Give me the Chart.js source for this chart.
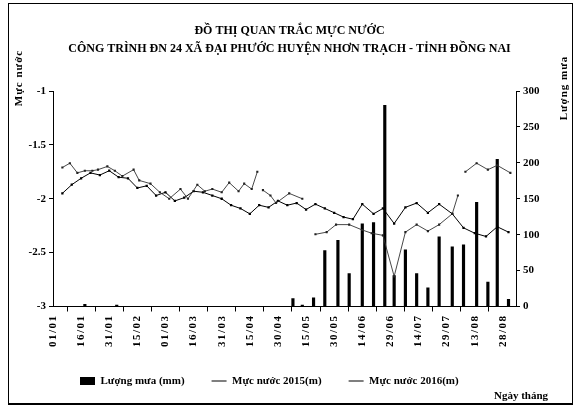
<!DOCTYPE html>
<html>
<head>
<meta charset="utf-8">
<script src="https://cdn.jsdelivr.net/npm/chart.js@4.4.1/dist/chart.umd.min.js"></script>
<style>
html,body{margin:0;padding:0;background:#fff;}
#wrap{position:relative;width:579px;height:415px;overflow:hidden;}
#c{position:absolute;left:0;top:0;}
#frame{position:absolute;left:8px;top:3px;width:563px;height:399px;border:1px solid #000;border-bottom-width:2px;pointer-events:none;}
.lbl{position:absolute;font-family:'Liberation Serif',serif;font-weight:bold;font-size:11px;color:#000;white-space:nowrap;line-height:13px;}
.rot{transform:translate(-50%,-50%) rotate(-90deg);letter-spacing:1px;}
</style>
</head>
<body>
<div id="wrap">
<canvas id="c" width="579" height="415"></canvas>
<div id="frame"></div>
<div class="lbl rot" style="left:18px;top:78px;">Mực nước</div>
<div class="lbl rot" style="left:563px;top:88px;">Lượng mưa</div>
<div class="lbl" style="left:494px;top:389px;">Ngày tháng</div>
</div>
<script>
// ---- data ----
const titleLines = ['ĐỒ THỊ QUAN TRẮC MỰC NƯỚC', 'CÔNG TRÌNH ĐN 24 XÃ ĐẠI PHƯỚC HUYỆN NHƠN TRẠCH - TỈNH ĐỒNG NAI'];
const tickDays = [0,15,30,45,60,75,90,105,120,135,150,165,180,195,210,225,240];
const tickLabels = ['01/01','16/01','31/01','15/02','01/03','16/03','31/03','15/04','30/04','15/05','30/05','14/06','29/06','14/07','29/07','13/08','28/08'];

const days2015 = [5,10,15,20,25,30,35,40,45,50,55,60,65,70,75,80,85,90,95,100,105,110,115,120,125,130,135,140,145,150,155,160,165,171,176,182,188,194,200,206,213,219,225,231,237,243];
const level2015 = [-1.95,-1.87,-1.81,-1.76,-1.78,-1.74,-1.80,-1.81,-1.90,-1.88,-1.97,-1.94,-2.02,-1.99,-1.93,-1.94,-1.97,-2.00,-2.06,-2.09,-2.14,-2.06,-2.08,-2.02,-2.06,-2.04,-2.10,-2.05,-2.09,-2.13,-2.17,-2.19,-2.05,-2.14,-2.09,-2.23,-2.08,-2.04,-2.13,-2.05,-2.14,-2.27,-2.32,-2.35,-2.26,-2.31];

const days2016 = [5,9,13,17,21,24,29,33,37,43,46,52,57,62,68,72,77,81,85,90,94,99,102,106,109,110,112,116,119,126,133,136,140,146,151,158,165,170,176,182,188,194,200,206,213,216,218,220,226,232,237,244];
const level2016 = [-1.71,-1.67,-1.76,-1.74,-1.74,-1.73,-1.70,-1.74,-1.79,-1.73,-1.83,-1.86,-1.94,-2.00,-1.91,-2.00,-1.87,-1.93,-1.91,-1.94,-1.85,-1.93,-1.86,-1.91,-1.75,null,-1.92,-1.97,-2.04,-1.95,-2.00,null,-2.33,-2.31,-2.24,-2.24,-2.29,-2.32,-2.34,-2.72,-2.31,-2.24,-2.30,-2.24,-2.14,-1.97,null,-1.75,-1.67,-1.73,-1.69,-1.76];

const rainDays = [17,34,128,133,139,145,152,158,165,171,177,182,188,194,200,206,213,219,226,232,237,243];
const rainValues = [3,2,11,2,12,78,92,46,115,117,280,43,79,46,26,97,83,86,145,34,205,10];

const seriesNames = ['Lượng mưa (mm)', 'Mực nước 2015(m)', 'Mực nước 2016(m)'];

// ---- chart ----
const FONT = "'Liberation Serif', 'Times New Roman', serif";
Chart.defaults.color = '#000';
Chart.defaults.font.family = FONT;

const pair = (xs, ys) => xs.map((x, i) => ({x: x, y: ys[i]}));

const xLabelSpacing = {
  id: 'xLabelSpacing',
  afterUpdate(chart) {
    const s = chart.scales.x;
    if (s && !s._spaced) {
      const orig = s.drawLabels.bind(s);
      s.drawLabels = function (area) {
        const ctx = this.ctx;
        ctx.save();
        try { ctx.letterSpacing = '1.5px'; } catch (e) {}
        orig(area);
        ctx.restore();
      };
      s._spaced = true;
    }
  }
};

new Chart(document.getElementById('c'), {
  type: 'bar',
  data: {
    datasets: [
      {
        type: 'bar',
        label: seriesNames[0],
        data: pair(rainDays, rainValues),
        yAxisID: 'y1',
        backgroundColor: '#000',
        borderWidth: 0,
        barThickness: 2.5,
        order: 2
      },
      {
        type: 'line',
        label: seriesNames[1],
        data: pair(days2015, level2015),
        yAxisID: 'y',
        borderColor: '#000',
        backgroundColor: '#000',
        borderWidth: 1,
        pointStyle: 'rect',
        pointRadius: 1.6,
        pointBorderWidth: 0,
        tension: 0,
        spanGaps: false,
        order: 1
      },
      {
        type: 'line',
        label: seriesNames[2],
        data: pair(days2016, level2016),
        yAxisID: 'y',
        borderColor: '#333',
        backgroundColor: '#222',
        borderWidth: 0.9,
        pointStyle: 'rect',
        pointRadius: 1.5,
        pointBorderWidth: 0,
        tension: 0,
        spanGaps: false,
        order: 0
      }
    ]
  },
  options: {
    responsive: false,
    animation: false,
    events: [],
    layout: { padding: { top: 0, left: 0, right: 0, bottom: 18.5 } },
    plugins: {
      title: {
        display: true,
        text: titleLines,
        color: '#000',
        font: { family: FONT, size: 12, weight: 'bold', lineHeight: 1.5 },
        padding: { top: 22, bottom: 33 }
      },
      legend: {
        display: true,
        position: 'bottom',
        align: 'start',
        fullSize: false,
        labels: {
          color: '#000',
          font: { family: FONT, size: 11, weight: 'bold' },
          padding: 27,
          usePointStyle: true,
          pointStyleWidth: 15,
          boxHeight: 8,
          sort: (a, b) => a.datasetIndex - b.datasetIndex,
          generateLabels(chart) {
            const items = Chart.defaults.plugins.legend.labels.generateLabels(chart);
            items.forEach(it => {
              const ds = chart.data.datasets[it.datasetIndex];
              const isBar = ds.type === 'bar';
              it.pointStyle = isBar ? 'rect' : 'line';
              it.fillStyle = '#000';
              it.strokeStyle = '#000';
              it.lineWidth = isBar ? 0 : 1.2;
            });
            return items;
          }
        }
      },
      tooltip: { enabled: false }
    },
    scales: {
      x: {
        type: 'linear',
        min: 0,
        max: 247,
        offset: false,
        afterBuildTicks: (s) => { s.ticks = tickDays.map(v => ({ value: v })); },
        afterFit: (s) => { s.height = 42; },
        ticks: {
          autoSkip: false,
          minRotation: 90,
          maxRotation: 90,
          padding: 3,
          color: '#000',
          font: { family: FONT, size: 11, weight: 'bold' },
          callback: (v, i) => tickLabels[i]
        },
        grid: { display: true, drawOnChartArea: false, drawTicks: true, tickLength: 5, color: '#000' },
        border: { display: true, color: '#000', width: 1 }
      },
      y: {
        type: 'linear',
        position: 'left',
        min: -3,
        max: -1,
        afterFit: (s) => { s.width = 53; },
        ticks: {
          stepSize: 0.5,
          padding: 3,
          color: '#000',
          font: { family: FONT, size: 11, weight: 'bold' },
          callback: (v) => String(v)
        },
        grid: { display: true, drawOnChartArea: false, drawTicks: true, tickLength: 4, color: '#000' },
        border: { display: true, color: '#000', width: 1 }
      },
      y1: {
        type: 'linear',
        position: 'right',
        min: 0,
        max: 300,
        afterFit: (s) => { s.width = 63; },
        ticks: {
          stepSize: 50,
          padding: 3,
          color: '#000',
          font: { family: FONT, size: 11, weight: 'bold' },
          callback: (v) => String(v)
        },
        grid: { display: true, drawOnChartArea: false, drawTicks: true, tickLength: 4, color: '#000' },
        border: { display: true, color: '#000', width: 1 }
      }
    }
  },
  plugins: [xLabelSpacing]
});
</script>
</body>
</html>
